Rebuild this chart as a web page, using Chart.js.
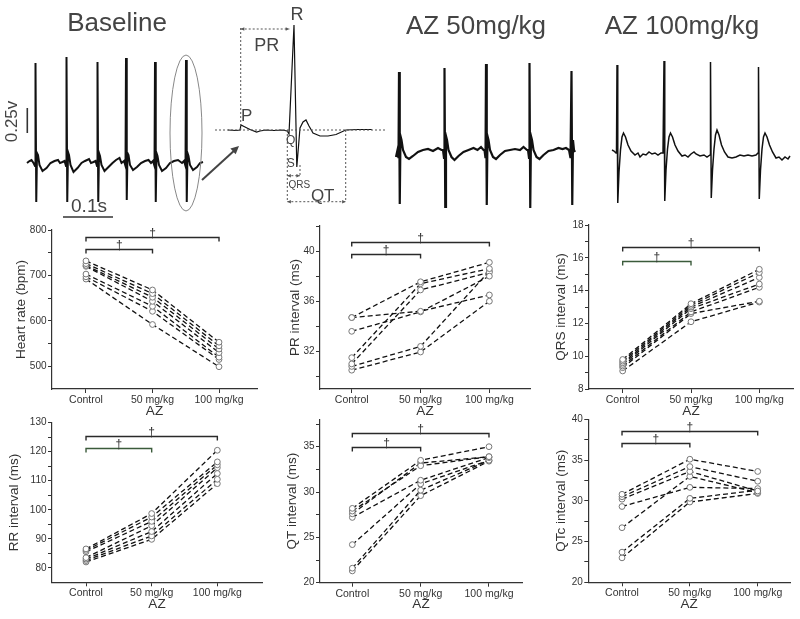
<!DOCTYPE html>
<html>
<head>
<meta charset="utf-8">
<script src="https://cdn.jsdelivr.net/npm/chart.js@4.4.0/dist/chart.umd.min.js"></script>
<style>
  html, body { margin: 0; padding: 0; background: #fff; }
  #wrap { position: relative; width: 800px; height: 619px; overflow: hidden; background: #fff; }
  #wrap canvas { position: absolute; }
</style>
</head>
<body>
<div id="wrap">
  <canvas id="ecgBase" width="215" height="220" style="left:0px;top:0px"></canvas>
  <canvas id="ecgBeat" width="195" height="220" style="left:200px;top:0px"></canvas>
  <canvas id="ecg50" width="215" height="220" style="left:385px;top:0px"></canvas>
  <canvas id="ecg100" width="200" height="220" style="left:600px;top:0px"></canvas>
  <canvas id="hr"></canvas>
  <canvas id="pr"></canvas>
  <canvas id="qrs"></canvas>
  <canvas id="rr"></canvas>
  <canvas id="qt"></canvas>
  <canvas id="qtc"></canvas>
</div>
<script>
// ---- data ----
const doses = ['Control', '50 mg/kg', '100 mg/kg'];

const hrControl = [732, 726, 722, 720, 703, 697, 692];
const hr50      = [668, 660, 652, 643, 632, 621, 592];
const hr100     = [553, 545, 538, 530, 520, 515, 499];
const hrTicks = [500, 600, 700, 800], hrMinor = [550, 650, 750];
const hrBrackets = [[0, 2, 785], [0, 1, 758]];

const prControl = [34.7, 34.7, 33.6, 31.5, 31.0, 30.8, 30.5];
const pr50      = [37.55, 35.2, 35.15, 37.4, 36.9, 32.4, 31.95];
const pr100     = [39.1, 36.5, 38.0, 38.6, 38.3, 38.4, 36.0];
const prTicks = [32, 36, 40], prMinor = [30, 34, 38, 42];
const prBrackets = [[0, 2, 40.7], [0, 1, 39.74]];

const qrsControl = [9.8, 9.7, 9.6, 9.5, 9.4, 9.3, 9.1];
const qrs50      = [13.2, 13.1, 13.0, 12.9, 12.7, 12.6, 12.1];
const qrs100     = [15.3, 15.1, 14.8, 14.4, 14.2, 13.35, 13.3];
const qrsTicks = [8, 10, 12, 14, 16, 18], qrsMinor = [9, 11, 13, 15, 17];
const qrsBrackets = [[0, 2, 16.63], [0, 1, 15.82]];

const rrControl = [86.5, 86.0, 85.5, 83.5, 83.0, 82.5, 82.0];
const rr50      = [98.7, 97.5, 96.0, 94.5, 92.5, 91.0, 89.8];
const rr100     = [120.5, 116.5, 115.5, 114.5, 112.5, 110.5, 109.0];
const rrTicks = [80, 90, 100, 110, 120, 130], rrMinor = [85, 95, 105, 115, 125];
const rrBrackets = [[0, 2, 125.5], [0, 1, 121.2]];

const qtControl = [28.2, 27.9, 27.6, 27.2, 24.2, 21.6, 21.3];
const qt50      = [33.5, 32.9, 33.2, 31.3, 30.9, 30.2, 29.6];
const qt100     = [35.0, 33.9, 33.9, 33.8, 33.5, 33.5, 33.4];
const qtTicks = [20, 25, 30, 35], qtMinor = [22.5, 27.5, 32.5, 37.5];
const qtBrackets = [[0, 2, 36.5], [0, 1, 34.93]];

const qtcControl = [30.8, 30.5, 30.2, 29.3, 26.7, 23.7, 23.0];
const qtc50      = [35.1, 34.2, 33.6, 31.65, 33.0, 30.3, 29.85];
const qtc100     = [33.6, 32.4, 31.2, 31.5, 31.0, 31.3, 30.9];
const qtcTicks = [20, 25, 30, 35, 40], qtcMinor = [22.5, 27.5, 32.5, 37.5];
const qtcBrackets = [[0, 2, 38.56], [0, 1, 37.1]];

// ECG traces: [time ms, volts]
const baselineTrace = [[0,0.0],[5,0.02],[9,0.03],[13,0.0],[16,-0.03],[17,1.0],[18.5,-0.39],[20,0.1],[22,0.08],[25,-0.02],[31,-0.08],[39,-0.05],[47,0.0],[55,0.02],[62,0.03],[66,0.0],[71,0.01],
  [75,0.02],[78,-0.03],[79,1.06],[80.5,-0.39],[82,0.11],[84,0.08],[87,-0.02],[93,-0.09],[101,-0.05],[109,0.0],[116,0.02],[124,0.04],[128,0.0],[133,0.01],
  [137,0.02],[140,-0.03],[141,1.01],[142.5,-0.39],[144,0.1],[146,0.07],[149,-0.02],[155,-0.08],[163,-0.04],[171,0.0],[178,0.03],[185,0.05],[189,0.0],
  [194,0.02],[197,-0.03],[198,1.05],[199.5,-0.37],[201,0.1],[203,0.08],[206,-0.02],[212,-0.07],[220,-0.04],[228,0.0],[236,0.02],[243,0.03],[248,0.0],
  [252,0.02],[255,-0.03],[256,1.01],[257.5,-0.39],[259,0.1],[261,0.07],[264,-0.02],[270,-0.08],[278,-0.05],[286,0.0],[294,0.02],[302,0.03],[310,0.0],
  [314,0.02],[317,-0.03],[318,1.03],[319.5,-0.39],[321,0.1],[323,0.07],[326,-0.02],[332,-0.07],[340,-0.04],[346,0.0],[352,0.01]];

const trace50 = [[0,-0.07],[3,0.0],[5,-0.08],[6,0.78],[7.5,-0.54],[9,0.14],[11,0.1],[14,0.0],[20,-0.07],[26,-0.09],[34,-0.06],[44,-0.02],[54,0.0],[64,0.01],[74,-0.01],[84,0.02],[91,0.0],
  [94,0.0],[96,-0.08],[97,0.82],[98.5,-0.57],[100,0.14],[102,0.1],[105,0.0],[111,-0.07],[117,-0.1],[125,-0.06],[135,-0.02],[145,0.0],[155,0.02],[163,0.0],[170,0.03],[175,0.0],
  [177,0.0],[179,-0.08],[180,0.86],[181.5,-0.55],[183,0.14],[185,0.1],[188,0.0],[194,-0.07],[200,-0.09],[208,-0.05],[218,-0.01],[228,0.0],[238,0.01],[248,0.0],[255,0.03],[262,0.0],
  [264,0.0],[266,-0.08],[267,0.87],[268.5,-0.58],[270,0.14],[272,0.1],[275,0.0],[281,-0.07],[287,-0.09],[295,-0.05],[305,-0.01],[315,0.0],[325,0.02],[333,0.01],[340,0.02],[346,0.0],
  [349,-0.08],[351,0.79],[352.5,-0.55],[354,0.1],[356,0.0],[358,-0.02]];

const trace100 = [[0,0.05],[4,0.04],[8,0.02],[9,0.03],[10,0.9],[11.5,-0.48],[14,-0.17],[17,0.05],[20,0.18],[23,0.22],[27,0.18],[32,0.1],[38,0.04],[46,0.0],[52,0.02],[56,-0.02],[62,0.01],[68,0.0],[74,0.03],[80,0.01],[86,0.02],[92,0.0],[98,0.02],[102,0.02],
  [104,0.94],[105.5,-0.46],[108,-0.15],[111,0.06],[114,0.18],[117,0.22],[121,0.18],[126,0.1],[132,0.04],[140,-0.01],[146,0.0],[152,-0.02],[158,0.01],[164,0.03],[168,0.01],[176,-0.01],[184,0.0],[190,-0.02],[196,0.0],
  [197,0.93],[198.5,-0.43],[201,-0.15],[204,0.06],[207,0.2],[210,0.25],[214,0.2],[219,0.1],[225,0.03],[232,-0.02],[240,-0.03],[248,-0.02],[256,0.0],[264,-0.01],[272,0.0],[280,-0.01],[288,0.0],[292,0.02],
  [293,0.88],[294.5,-0.44],[297,-0.15],[300,0.06],[303,0.18],[306,0.22],[310,0.18],[315,0.1],[321,0.03],[328,-0.03],[334,-0.02],[340,-0.05],[346,-0.02],[352,-0.04],[356,-0.01]];

const beatTrace = [[0,0],[4,-0.005],[6,0],[6.5,0.05],[8,0.035],[11,0.005],[14.3,-0.02],[16,-0.01],[19,0],[23,-0.005],[27,0],[29.6,-0.01],[30.5,-0.04],
  [33,1.05],[34.4,-0.37],[36,0.02],[37.5,0.08],[39,0.1],[40.5,0.04],[42.5,-0.03],[46,-0.06],[50,-0.06],[54,-0.045],[58.9,0],[65,0.005],[71.9,0.005]];

// interval markers on the enlarged beat (ms)
const prSpan = [6.35, 30.65], qrsSpan = [29.65, 36], qtSpan = [29.65, 58.85];

// ---- drawing ----
const FONT = '"Liberation Sans", Arial, sans-serif';
Chart.defaults.font.family = FONT;
Chart.defaults.color = '#333';

function txt(ctx, s, x, y, size, rot) {
  ctx.save();
  ctx.font = size + 'px ' + FONT;
  ctx.fillStyle = '#444';
  ctx.textAlign = 'center';
  ctx.textBaseline = 'middle';
  ctx.translate(x, y);
  if (rot) ctx.rotate(rot);
  ctx.fillText(s, 0, 0);
  ctx.restore();
}

function seg(ctx, x1, y1, x2, y2) {
  ctx.beginPath(); ctx.moveTo(x1, y1); ctx.lineTo(x2, y2); ctx.stroke();
}

function head(ctx, x, y, ang, len) {
  ctx.beginPath();
  ctx.moveTo(x, y);
  ctx.lineTo(x - len * Math.cos(ang - 0.45), y - len * Math.sin(ang - 0.45));
  ctx.lineTo(x - len * Math.cos(ang + 0.45), y - len * Math.sin(ang + 0.45));
  ctx.closePath(); ctx.fill();
}

function ecgChart(id, trace, xr, yr, lw, extra) {
  return new Chart(document.getElementById(id), {
    type: 'scatter',
    data: { datasets: [{
      data: trace.map(p => ({ x: p[0], y: p[1] })),
      showLine: true, borderColor: '#111', borderWidth: lw, pointRadius: 0, tension: 0
    }] },
    options: {
      responsive: false, animation: false, events: [],
      layout: { padding: 0, autoPadding: false },
      plugins: { legend: { display: false }, tooltip: { enabled: false } },
      scales: {
        x: { type: 'linear', display: false, min: xr[0], max: xr[1] },
        y: { type: 'linear', display: false, min: yr[0], max: yr[1] }
      }
    },
    plugins: extra ? [extra] : []
  });
}

const baseMarks = {
  id: 'baseMarks',
  afterDatasetsDraw(chart) {
    const ctx = chart.ctx, X = v => chart.scales.x.getPixelForValue(v), Y = v => chart.scales.y.getPixelForValue(v);
    txt(ctx, 'Baseline', 117, 24, 26);
    ctx.save();
    ctx.strokeStyle = '#333'; ctx.lineWidth = 1.6;
    seg(ctx, X(0.6), Y(0.3), X(0.6), Y(0.55));      // 0.25 V bar
    seg(ctx, X(72), Y(-0.54), X(172), Y(-0.54));    // 0.1 s bar
    ctx.strokeStyle = '#888'; ctx.lineWidth = 1;
    ctx.beginPath(); ctx.ellipse(186, 133, 16, 78, 0, 0, Math.PI * 2); ctx.stroke();
    ctx.restore();
    txt(ctx, '0.25v', 12.5, 121.5, 17, -Math.PI / 2);
    txt(ctx, '0.1s', 89, 207, 19);
  }
};

const beatMarks = {
  id: 'beatMarks',
  afterDatasetsDraw(chart) {
    const ctx = chart.ctx, X = v => chart.scales.x.getPixelForValue(v), Y = v => chart.scales.y.getPixelForValue(v);
    ctx.save();
    ctx.strokeStyle = '#555'; ctx.lineWidth = 1; ctx.setLineDash([2, 2]);
    seg(ctx, X(-6.5), Y(0), X(79.4), Y(0));
    seg(ctx, X(prSpan[0]), Y(0), X(prSpan[0]), Y(1.02));
    seg(ctx, X(qtSpan[0]), Y(0), X(qtSpan[0]), Y(-0.72));
    seg(ctx, X(qtSpan[1]), Y(0), X(qtSpan[1]), Y(-0.72));
    seg(ctx, X(qrsSpan[1]), Y(-0.35), X(qrsSpan[1]), Y(-0.47));
    ctx.fillStyle = '#555';
    [[prSpan, 1.01], [qrsSpan, -0.457], [qtSpan, -0.717]].forEach(([s, v]) => {
      const a = X(s[0]), b = X(s[1]), y = Y(v);
      seg(ctx, a, y, b, y);
      head(ctx, a, y, Math.PI, 4);
      head(ctx, b, y, 0, 4);
    });
    ctx.setLineDash([]);
    // pointer from the circled beat
    ctx.strokeStyle = '#444'; ctx.fillStyle = '#444'; ctx.lineWidth = 2;
    seg(ctx, 2, 180, 36, 149);
    head(ctx, 39, 146, Math.atan2(-34, 37), 9);
    ctx.restore();
    txt(ctx, 'R', 97, 15, 18);
    txt(ctx, 'PR', 66.7, 46, 18);
    txt(ctx, 'P', 46.7, 116.7, 17);
    txt(ctx, 'Q', 90.7, 140.7, 12);
    txt(ctx, 'S', 90.7, 163.3, 12);
    txt(ctx, 'QRS', 99.3, 185, 10);
    txt(ctx, 'QT', 122.7, 196.7, 17);
  }
};

const titleMark = (s, x) => ({ id: 'title' + x, afterDatasetsDraw(chart) { txt(chart.ctx, s, x, 27, 26); } });

ecgChart('ecgBase', baselineTrace, [-54, 376], [-0.57, 1.63], 2, baseMarks);
ecgChart('ecgBeat', beatTrace, [-14, 83.5], [-0.9, 1.3], 1.2, beatMarks);
ecgChart('ecg50', trace50, [-22, 408], [-0.7, 1.5], 2.2, titleMark('AZ 50mg/kg', 91));
ecgChart('ecg100', trace100, [-24, 376], [-0.65, 1.55], 1.5, titleMark('AZ 100mg/kg', 82));

// ---- interval panels ----
const TITLE = 13.5, HALF = TITLE * 1.2 / 2;

const bracketMarks = {
  id: 'brackets',
  afterDatasetsDraw(chart, args, opts) {
    const ctx = chart.ctx, xs = chart.scales.x, ys = chart.scales.y;
    ctx.save();
    opts.list.forEach((b, i) => {
      const a = xs.getPixelForValue(b[0]), c = xs.getPixelForValue(b[1]), y = Math.round(ys.getPixelForValue(b[2])) + 0.5;
      ctx.strokeStyle = i === 1 ? opts.inner : '#2a2a2a';
      ctx.lineWidth = 1.4;
      ctx.beginPath();
      ctx.moveTo(a, y + 4); ctx.lineTo(a, y); ctx.lineTo(c, y); ctx.lineTo(c, y + 4);
      ctx.stroke();
      ctx.font = '12px ' + FONT; ctx.fillStyle = '#333';
      ctx.textAlign = 'center'; ctx.textBaseline = 'bottom';
      ctx.fillText('\u2020', (a + c) / 2, y + 2);
    });
    ctx.restore();
  }
};

function panel(p) {
  const cv = document.getElementById(p.id);
  const cl = Math.round(p.titleX - HALF), ct = Math.round(p.top - 10);
  const cr = Math.min(800, Math.round(p.right + 6)), cb = Math.round(p.azY + HALF);
  cv.width = cr - cl; cv.height = cb - ct;
  cv.style.left = cl + 'px'; cv.style.top = ct + 'px';
  const yWidth = p.left - cl, xHeight = cb - p.bottom;

  const ds = [];
  p.c.forEach((v, i) => {
    const pts = [{ x: 0, y: p.c[i] }, { x: 1, y: p.m[i] }, { x: 2, y: p.h[i] }];
    ds.push({ data: pts, showLine: true, borderColor: '#111', borderWidth: 1.3, borderDash: [5, 3],
              pointRadius: 0, order: 2 });
    ds.push({ data: pts, showLine: false, pointRadius: 2.9, pointBorderColor: '#777',
              pointBackgroundColor: '#fff', pointBorderWidth: 1, order: 1 });
  });
  const allTicks = p.major.concat(p.minor).sort((a, b) => a - b);

  new Chart(cv, {
    type: 'scatter',
    data: { datasets: ds },
    options: {
      responsive: false, animation: false, events: [],
      layout: { padding: { top: p.top - ct, right: cr - p.right, left: 0, bottom: 0 }, autoPadding: false },
      plugins: { legend: { display: false }, tooltip: { enabled: false },
                 brackets: { list: p.brackets, inner: p.inner || '#2a2a2a' } },
      scales: {
        x: {
          type: 'linear', min: p.xMin, max: p.xMax,
          afterBuildTicks: s => { s.ticks = [0, 1, 2].map(v => ({ value: v })); },
          afterFit: s => { s.height = xHeight; },
          border: { color: '#333', width: 1.2 },
          grid: { drawOnChartArea: false, drawTicks: true, tickLength: 4, color: '#333' },
          ticks: { padding: 1, font: { size: 10.5 }, color: '#333', maxRotation: 0,
                   callback: v => doses[v] },
          title: { display: true, text: 'AZ', font: { size: TITLE }, color: '#333', padding: 0 }
        },
        y: {
          type: 'linear', min: p.yMin, max: p.yMax,
          afterBuildTicks: s => { s.ticks = allTicks.map(v => ({ value: v })); },
          afterFit: s => { s.width = yWidth; },
          border: { color: '#333', width: 1.2 },
          grid: { drawOnChartArea: false, drawTicks: true, tickLength: 4, color: '#333' },
          ticks: { padding: 1.5, font: { size: 10 }, color: '#333',
                   callback: v => p.major.includes(v) ? String(v) : '' },
          title: { display: true, text: p.yTitle, font: { size: TITLE }, color: '#333', padding: 0 }
        }
      }
    },
    plugins: [bracketMarks]
  });
}

panel({ id: 'hr', yTitle: 'Heart rate (bpm)', c: hrControl, m: hr50, h: hr100,
        major: hrTicks, minor: hrMinor, brackets: hrBrackets, yMin: 450, yMax: 800,
        left: 52, right: 257, top: 230, bottom: 389, titleX: 21, azY: 411, xMin: -0.511, xMax: 2.571 });
panel({ id: 'pr', yTitle: 'PR interval (ms)', c: prControl, m: pr50, h: pr100,
        major: prTicks, minor: prMinor, brackets: prBrackets, yMin: 29, yMax: 42,
        left: 320, right: 530, top: 226, bottom: 389, titleX: 295, azY: 411, xMin: -0.461, xMax: 2.59 });
panel({ id: 'qrs', yTitle: 'QRS interval (ms)', c: qrsControl, m: qrs50, h: qrs100,
        major: qrsTicks, minor: qrsMinor, brackets: qrsBrackets, yMin: 8, yMax: 18, inner: '#3b5b3b',
        left: 589, right: 793, top: 225, bottom: 389, titleX: 561, azY: 411, xMin: -0.493, xMax: 2.493 });
panel({ id: 'rr', yTitle: 'RR interval (ms)', c: rrControl, m: rr50, h: rr100,
        major: rrTicks, minor: rrMinor, brackets: rrBrackets, yMin: 75, yMax: 130, inner: '#3b5b3b',
        left: 52, right: 262, top: 422.7, bottom: 582.3, titleX: 14, azY: 604, xMin: -0.518, xMax: 2.68 });
panel({ id: 'qt', yTitle: 'QT interval (ms)', c: qtControl, m: qt50, h: qt100,
        major: qtTicks, minor: qtMinor, brackets: qtBrackets, yMin: 20, yMax: 38,
        left: 320, right: 522, top: 419.5, bottom: 582.7, titleX: 292.5, azY: 604, xMin: -0.473, xMax: 2.483 });
panel({ id: 'qtc', yTitle: 'QTc interval (ms)', c: qtcControl, m: qtc50, h: qtc100,
        major: qtcTicks, minor: qtcMinor, brackets: qtcBrackets, yMin: 20, yMax: 40,
        left: 588.3, right: 790, top: 419.3, bottom: 582.3, titleX: 561, azY: 604, xMin: -0.497, xMax: 2.476 });
</script>
</body>
</html>
